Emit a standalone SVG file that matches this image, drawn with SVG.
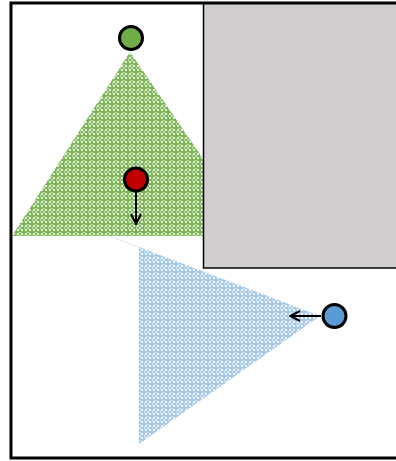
<svg xmlns="http://www.w3.org/2000/svg" width="396" height="461" viewBox="0 0 396 461">
<defs>
<pattern id="pg" width="8" height="8" patternUnits="userSpaceOnUse">
<rect width="8" height="8" fill="#7DB556"/>
<rect x="1" y="1" width="2" height="2" fill="#E2F0D9"/>
<rect x="5" y="1" width="2" height="2" fill="#E2F0D9"/>
<rect x="1" y="5" width="2" height="2" fill="#E2F0D9"/>
<rect x="5" y="5" width="2" height="2" fill="#E2F0D9"/>
<rect x="3" y="3" width="2" height="2" fill="#C5E0B4"/>
<rect x="0" y="3" width="1" height="2" fill="#C5E0B4"/>
<rect x="3" y="0" width="2" height="1" fill="#C5E0B4"/>
</pattern>
<pattern id="pb" width="8" height="8" patternUnits="userSpaceOnUse">
<rect width="8" height="8" fill="#A5C8E9"/>
<rect x="1" y="1" width="2" height="2" fill="#EEF5FC"/>
<rect x="5" y="1" width="2" height="2" fill="#EEF5FC"/>
<rect x="1" y="5" width="2" height="2" fill="#EEF5FC"/>
<rect x="5" y="5" width="2" height="2" fill="#EEF5FC"/>
<rect x="3" y="3" width="2" height="2" fill="#D2E4F5"/>
<rect x="0" y="3" width="1" height="2" fill="#D2E4F5"/>
<rect x="3" y="0" width="2" height="1" fill="#D2E4F5"/>
</pattern>
<marker id="ah" viewBox="0 0 12 12" refX="11" refY="6" markerWidth="12" markerHeight="12" markerUnits="userSpaceOnUse" orient="auto">
<path d="M1,1 L11,6 L1,11" fill="none" stroke="#000" stroke-width="2"/>
</marker>
<style>
.node{stroke:#000;stroke-width:3}
.conn{stroke:#000;stroke-width:2;fill:none;marker-end:url(#ah)}
</style>
</defs>
<rect x="0" y="0" width="396" height="461" fill="#fff"/>
<g id="green-cone">
<polygon points="130,52 12,236 256,236" fill="url(#pg)"/>
</g>
<g id="blue-cone">
<line x1="108" y1="236" x2="139" y2="247" stroke="#DDE8F4" stroke-width="1"/>
<polygon points="139,247 320,316 139,444" fill="url(#pb)"/>
</g>
<g id="obstacle">
<rect x="203.5" y="3" width="200" height="265" fill="#D0CECE" stroke="#000" stroke-width="1.5"/>
</g>
<rect x="11" y="3" width="400" height="455" fill="none" stroke="#000" stroke-width="3"/>
<g id="connectors">
<line class="conn" x1="136" y1="192" x2="136" y2="224"/>
<line class="conn" x1="321" y1="316" x2="290" y2="316"/>
</g>
<g id="green-node"><circle class="node" cx="131" cy="38" r="11.5" fill="#70AD47"/></g>
<g id="red-node"><circle class="node" cx="136" cy="179.5" r="11.5" fill="#C00000"/></g>
<g id="blue-node"><circle class="node" cx="334.5" cy="316" r="11.5" fill="#5B9BD5"/></g>
</svg>
